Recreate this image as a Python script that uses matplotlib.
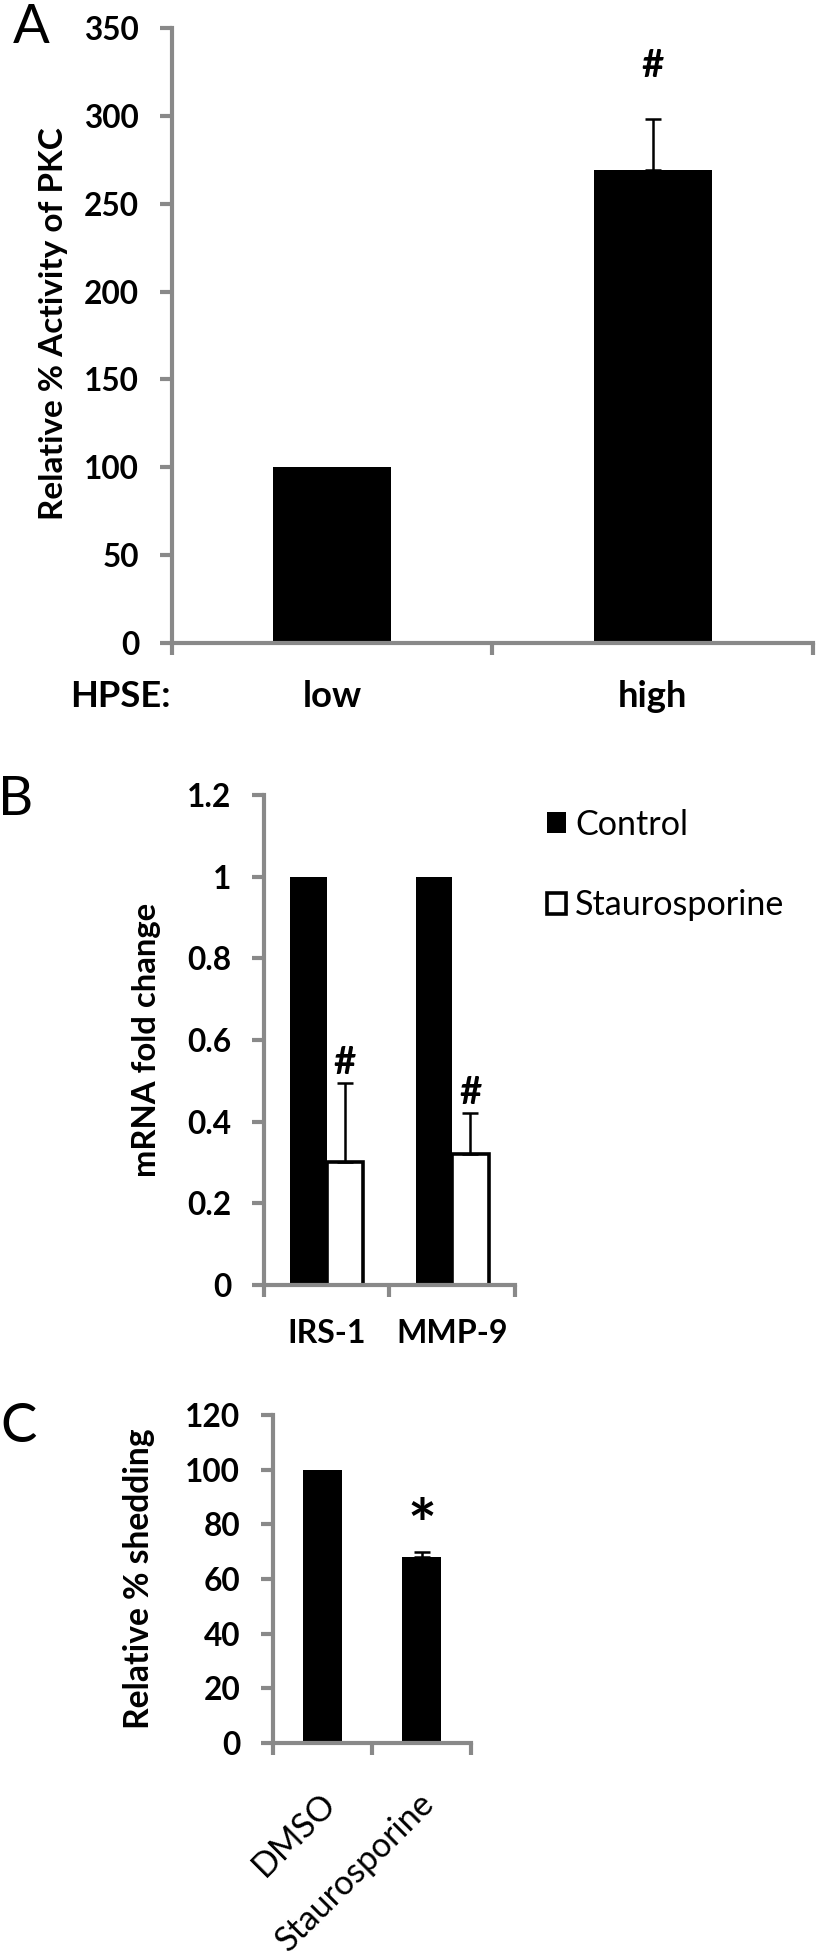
import matplotlib
matplotlib.use('Agg')
import matplotlib.pyplot as plt
from matplotlib.transforms import ScaledTranslation
from matplotlib.textpath import TextPath
from matplotlib.font_manager import FontProperties

# ---------------- data ----------------
a_categories = ['low', 'high']
a_values = [100, 269]
a_err = [0, 29]
a_yticks = [0, 50, 100, 150, 200, 250, 300, 350]
a_yticklabels = ['0', '50', '100', '150', '200', '250', '300', '350']

b_genes = ['IRS-1', 'MMP-9']
b_series = ['Control', 'Staurosporine']
b_control = [1.0, 1.0]
b_stauro = [0.30, 0.32]
b_stauro_err = [0.195, 0.10]
b_yticks = [0, 0.2, 0.4, 0.6, 0.8, 1.0, 1.2]
b_yticklabels = ['0', '0.2', '0.4', '0.6', '0.8', '1', '1.2']

c_categories = ['DMSO', 'Staurosporine']
c_values = [100, 68]
c_err = [0, 1.8]
c_yticks = [0, 20, 40, 60, 80, 100, 120]
c_yticklabels = ['0', '20', '40', '60', '80', '100', '120']

# ---------------- style ----------------
FAMILY = ['Lato', 'DejaVu Sans']
plt.rcParams['font.family'] = FAMILY
W, H, DPI = 820, 1951, 100
PT = 72 / DPI            # points per pixel
GREY = '#898989'
LW = 3.0
TICKLEN = 8.6


def em_ext(s, weight):
    e = TextPath((0, 0), s, size=1000,
                 prop=FontProperties(family=FAMILY, weight=weight)).get_extents()
    return e.x0 / 1000, e.x1 / 1000, e.y0 / 1000, e.y1 / 1000


def fit_px(s, weight, width_px):
    x0, x1, _, _ = em_ext(s, weight)
    return width_px / (x1 - x0)


TICK_PX = fit_px('350', 'bold', 53.3)
YLAB_A_PX = fit_px('Relative % Activity of PKC', 'bold', 389)
YLAB_B_PX = fit_px('mRNA fold change', 'bold', 272)
YLAB_C_PX = fit_px('Relative % shedding', 'bold', 298)
HPSE_PX = fit_px('HPSE:', 'bold', 96)
CATB_PX = 0.5 * (fit_px('IRS-1', 'bold', 73) + fit_px('MMP-9', 'bold', 108))
LEG_PX = fit_px('Staurosporine', 'normal', 207)
HASH_PX = fit_px('#', 'bold', 21)
STAR_PX = fit_px('*', 'bold', 22)
CATC_PT = 24.5
_b = em_ext('B', 'normal')
LETTER_PX = 39 / (_b[3] - _b[2])

fig = plt.figure(figsize=(W / DPI, H / DPI), dpi=DPI)


def rect(l, t, r, b):
    return [l / W, 1 - b / H, (r - l) / W, (b - t) / H]


def style_axes(ax, yticks, yticklabels):
    for s in ['top', 'right']:
        ax.spines[s].set_visible(False)
    for s in ['left', 'bottom']:
        ax.spines[s].set_color(GREY)
        ax.spines[s].set_linewidth(LW)
    ax.set_ylim(0, yticks[-1])
    ax.set_yticks(yticks, yticklabels)
    ax.tick_params(axis='y', direction='out', length=TICKLEN, width=LW,
                   color=GREY, pad=15, labelsize=TICK_PX * PT)
    for lab in ax.get_yticklabels():
        lab.set_fontweight('bold')
    ax.set_xlim(0, 2)
    ax.set_xticks([0, 1, 2], minor=True)
    ax.tick_params(axis='x', which='minor', direction='out', length=TICKLEN,
                   width=LW, color=GREY)
    ax.tick_params(axis='x', which='major', length=0)


def mark(ax, sym, x, top, gap_px, size_px):
    y0 = em_ext(sym, 'bold')[2]
    ax.annotate(sym, (x, top), xytext=(0, (gap_px - y0 * size_px) * PT),
                textcoords='offset points', ha='center', va='baseline',
                fontsize=size_px * PT, fontweight='bold')


def letter(s, left_px, bottom_px):
    x0 = em_ext(s, 'normal')[0]
    fig.text((left_px - x0 * LETTER_PX) / W, 1 - bottom_px / H, s,
             fontsize=LETTER_PX * PT, ha='left', va='baseline')


# ---------------- Panel A ----------------
axA = fig.add_axes(rect(172, 28, 813, 643))
xa = [0.5, 1.5]
axA.bar(xa, a_values, width=0.367, color='black', edgecolor='black', linewidth=0)
axA.errorbar(xa[1], a_values[1], yerr=[[0], [a_err[1]]], fmt='none',
             ecolor='black', elinewidth=1.8, capsize=5.8, capthick=1.8)
style_axes(axA, a_yticks, a_yticklabels)
axA.set_xticks(xa, a_categories)
axA.tick_params(axis='x', which='major', pad=64 * PT, labelsize=HPSE_PX * PT)
for lab in axA.get_xticklabels():
    lab.set_fontweight('bold')
    lab.set_va('baseline')
axA.set_ylabel('Relative % Activity of PKC', fontsize=YLAB_A_PX * PT,
               fontweight='bold', va='center')
axA.yaxis.set_label_coords(53.5 / W, 1 - 323.5 / H, transform=fig.transFigure)
mark(axA, '#', xa[1], a_values[1] + a_err[1], 42, HASH_PX)
_h = em_ext('HPSE:', 'bold')
fig.text((73.3 - _h[0] * HPSE_PX) / W, 1 - 707 / H, 'HPSE:', ha='left',
         va='baseline', fontsize=HPSE_PX * PT, fontweight='bold')

# ---------------- Panel B ----------------
axB = fig.add_axes(rect(264, 795, 515, 1285))
xb = [0.5, 1.5]
off, bw = 0.145, 0.29
bc = axB.bar([x - off for x in xb], b_control, width=bw, color='black',
             edgecolor='black', linewidth=0, label=b_series[0])
bs = axB.bar([x + off for x in xb], b_stauro, width=bw, color='white',
             edgecolor='black', linewidth=2.6, label=b_series[1])
axB.errorbar([x + off for x in xb], b_stauro,
             yerr=[[0] * len(b_stauro), b_stauro_err], fmt='none',
             ecolor='black', elinewidth=1.8, capsize=6, capthick=1.8)
style_axes(axB, b_yticks, b_yticklabels)
axB.set_xticks(xb, b_genes)
axB.tick_params(axis='x', which='major', pad=58 * PT, labelsize=CATB_PX * PT)
for lab in axB.get_xticklabels():
    lab.set_fontweight('bold')
    lab.set_va('baseline')
axB.set_ylabel('mRNA fold change', fontsize=YLAB_B_PX * PT, fontweight='bold',
               va='center')
axB.yaxis.set_label_coords(146.5 / W, 1 - 1040 / H, transform=fig.transFigure)
for x, v, e in zip(xb, b_stauro, b_stauro_err):
    mark(axB, '#', x + off, v + e, 9, HASH_PX)
_c = em_ext('Control', 'normal')
axB.legend(handles=[bc, bs], labels=b_series, loc='upper left',
           bbox_to_anchor=(547 / W, 1 - (825 - 0.48 * LEG_PX) / H),
           bbox_transform=fig.transFigure, frameon=False,
           fontsize=LEG_PX * PT, handlelength=19 / LEG_PX, handleheight=19 / LEG_PX,
           handletextpad=11 / LEG_PX - _c[0], labelspacing=76 / LEG_PX - 0.8,
           borderpad=0, borderaxespad=0)

# ---------------- Panel C ----------------
axC = fig.add_axes(rect(273, 1415, 471, 1743))
xc = [0.5, 1.5]
axC.bar(xc, c_values, width=0.385, color='black', edgecolor='black', linewidth=0)
axC.errorbar(xc[1], c_values[1], yerr=[[0], [c_err[1]]], fmt='none',
             ecolor='black', elinewidth=1.8, capsize=5.5, capthick=1.8)
style_axes(axC, c_yticks, c_yticklabels)
axC.set_xticks(xc, c_categories)
axC.tick_params(axis='x', which='major', pad=62 * PT, labelsize=CATC_PT)
shift = ScaledTranslation(15 / DPI, 0, fig.dpi_scale_trans)
for lab in axC.get_xticklabels():
    lab.set_rotation(45)
    lab.set_ha('right')
    lab.set_va('baseline')
    lab.set_rotation_mode('anchor')
    lab.set_transform(lab.get_transform() + shift)
axC.set_ylabel('Relative % shedding', fontsize=YLAB_C_PX * PT, fontweight='bold',
               va='center')
axC.yaxis.set_label_coords(139 / W, 1 - 1579 / H, transform=fig.transFigure)
mark(axC, '*', xc[1], c_values[1] + c_err[1], 32, STAR_PX)

# ---------------- panel letters ----------------
letter('A', 13.3, 43)
letter('B', 3, 815)
letter('C', 3.3, 1442)

fig.savefig('out.png', dpi=DPI)
